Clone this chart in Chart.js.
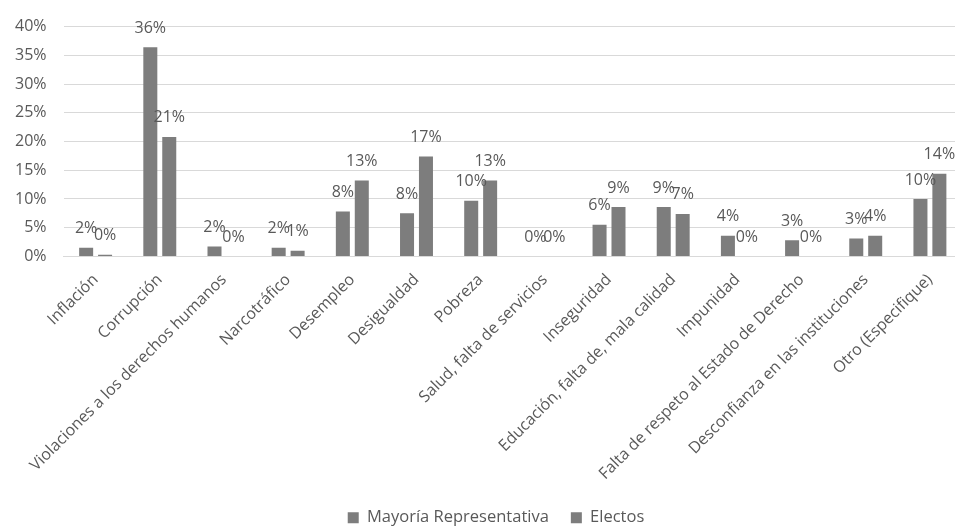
<!DOCTYPE html>
<html>
<head>
<meta charset="utf-8">
<script src="https://cdn.jsdelivr.net/npm/chart.js@4.4.0/dist/chart.umd.min.js"></script>
<style>
  html, body { margin: 0; padding: 0; background: #fff; overflow: hidden; }
  #wrap { width: 966px; height: 528px; position: relative; }
</style>
</head>
<body>
<div id="wrap"><canvas id="myChart"></canvas></div>
<script>
const categories = [
  'Inflación', 'Corrupción', 'Violaciones a los derechos humanos', 'Narcotráfico',
  'Desempleo', 'Desigualdad', 'Pobreza', 'Salud, falta de servicios', 'Inseguridad',
  'Educación, falta de, mala calidad', 'Impunidad', 'Falta de respeto al Estado de Derecho',
  'Desconfianza en las instituciones', 'Otro (Especifique)'
]
const mayoria = [1.5, 36.4, 1.7, 1.5, 7.8, 7.5, 9.7, 0, 5.5, 8.6, 3.6, 2.8, 3.1, 10.0]
const electos = [0.3, 20.8, 0, 1.0, 13.2, 17.4, 13.2, 0, 8.6, 7.4, 0, 0, 3.6, 14.4]
const yTicks = [0, 5, 10, 15, 20, 25, 30, 35, 40]

const gray = '#7d7d7d'
const textColor = '#595959'
const fontFamily = "'Open Sans', 'DejaVu Sans', sans-serif"

// draws the rounded % value above every bar
const barLabels = {
  id: 'barLabels',
  afterDatasetsDraw(chart) {
    const ctx = chart.ctx
    ctx.save()
    ctx.font = '16px ' + fontFamily
    ctx.fillStyle = textColor
    ctx.textAlign = 'center'
    ctx.textBaseline = 'middle'
    chart.data.datasets.forEach((ds, i) => {
      chart.getDatasetMeta(i).data.forEach((bar, j) => {
        ctx.fillText(Math.round(ds.data[j]) + '%', bar.x, bar.y - 19)
      })
    })
    ctx.restore()
  }
}

// original legend sits a bit right of the canvas centre
const legendShift = {
  id: 'legendShift',
  afterLayout(chart) {
    chart.legend.left += 28
  }
}

const ctx = document.getElementById('myChart').getContext('2d')
const myChart = new Chart(ctx, {
  type: 'bar',
  data: {
    labels: categories,
    datasets: [
      { label: 'Mayoría Representativa', data: mayoria, backgroundColor: gray },
      { label: 'Electos', data: electos, backgroundColor: gray }
    ]
  },
  options: {
    responsive: true,
    maintainAspectRatio: false,
    animation: false,
    categoryPercentage: 0.59,
    barPercentage: 0.74,
    layout: { padding: { top: 26, right: 4, left: 2, bottom: -8 } },
    plugins: {
      tooltip: { enabled: false },
      legend: {
        position: 'bottom',
        labels: {
          color: textColor,
          font: { family: fontFamily, size: 16.5 },
          boxWidth: 11,
          boxHeight: 11,
          padding: 22
        }
      }
    },
    scales: {
      x: {
        grid: { display: false },
        border: { color: '#d9d9d9' },
        afterFit: scale => { scale.height -= 2 },
        ticks: {
          color: textColor,
          font: { family: fontFamily, size: 16 },
          minRotation: 45,
          maxRotation: 45,
          autoSkip: false,
          padding: 6
        }
      },
      y: {
        min: 0,
        max: 40,
        afterBuildTicks: axis => { axis.ticks = yTicks.map(v => ({ value: v })) },
        afterFit: scale => { scale.width -= 4 },
        grid: { color: '#d9d9d9', drawTicks: false },
        border: { display: false },
        ticks: {
          color: textColor,
          font: { family: fontFamily, size: 16 },
          padding: 17,
          callback: v => v + '%'
        }
      }
    }
  },
  plugins: [barLabels, legendShift]
})
</script>
</body>
</html>
